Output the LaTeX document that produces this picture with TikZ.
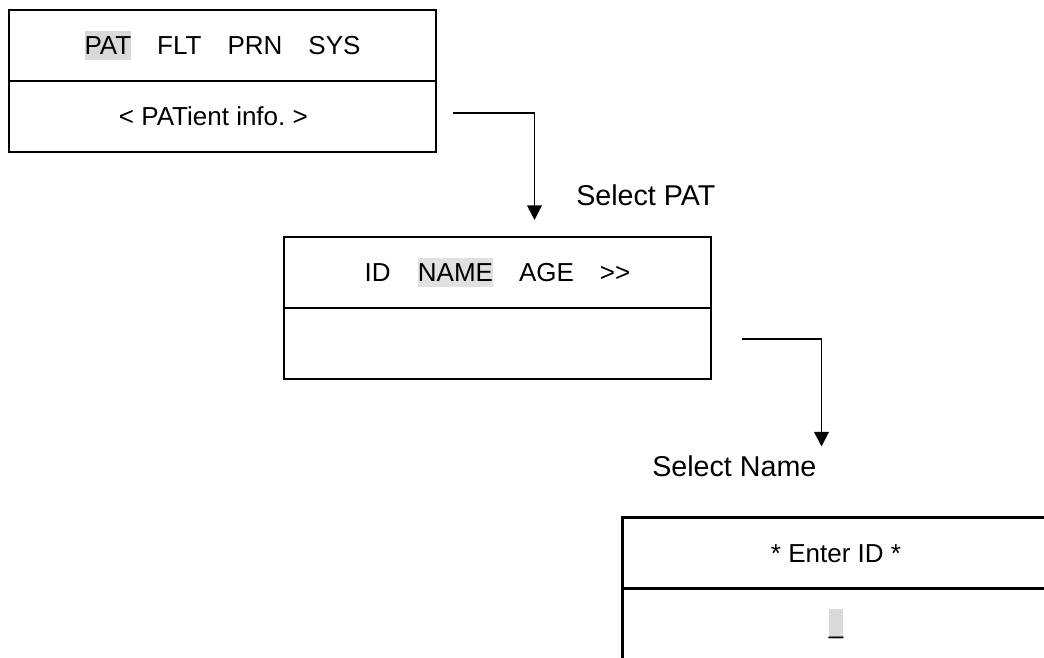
\documentclass[tikz,border=0pt]{standalone}
\usepackage{fontspec}
\setmainfont{Liberation Sans}
\usetikzlibrary{arrows.meta}
\frenchspacing
\definecolor{hlA}{HTML}{D9D9D9}
\definecolor{hlB}{HTML}{E0E0E0}
\newcommand\bstrut{\rule[-0.212em]{0pt}{1.117em}}
\newcommand\hlt[2]{{\setlength{\fboxsep}{0pt}\colorbox{#1}{\bstrut#2}}}
\tikzset{
  sect/.style={draw=black, line width=1.9pt, minimum width=320.25pt, minimum height=53.25pt,
    inner sep=0pt, font=\fontsize{19.5pt}{23pt}\selectfont, execute at begin node=\bstrut},
  conn/.style={draw=black, line width=1.4pt, -{Triangle[length=11pt,width=11pt]}},
  lbl/.style={inner sep=0pt, anchor=base west, font=\fontsize{21.5pt}{25pt}\selectfont}
}
\begin{document}
\begin{tikzpicture}[x=0.75pt, y=-0.75pt]
\useasboundingbox (0,0) rectangle (1044,657);
\clip (0,0) rectangle (1044,657);
% box 1
\node[sect] (b1t) at (222.5,45.5) {\hlt{hlA}{PAT}\hspace{1em}FLT\hspace{1em}PRN\hspace{1em}SYS};
\node[sect] (b1b) at (222.5,116.5) {<{} PATient info.\ >{}\kern0.7em\relax};
% box 2
\node[sect] (b2t) at (497.5,272.5) {ID\hspace{1.05em}\hlt{hlB}{NAME}\hspace{1em}AGE\hspace{1em}>{}>};
\node[sect] (b2b) at (497.5,343.5) {};
% box 3
\node[sect] (b3t) at (836,553) {* Enter ID *};
\node[sect] (b3b) at (836,624) {\hlt{hlA}{\_}};
% connectors
\coordinate (a1s) at (453,113);
\coordinate (a1e) at (534.5,220);
\draw[conn] (a1s) -| (a1e);
\coordinate (a2s) at (741.5,339);
\coordinate (a2e) at (821.5,446.5);
\draw[conn] (a2s) -| (a2e);
% labels
\node[lbl] (l1) at (576,205.7) {Select PAT};
\node[lbl] (l2) at (652,476) {Select Name};
\end{tikzpicture}
\end{document}
